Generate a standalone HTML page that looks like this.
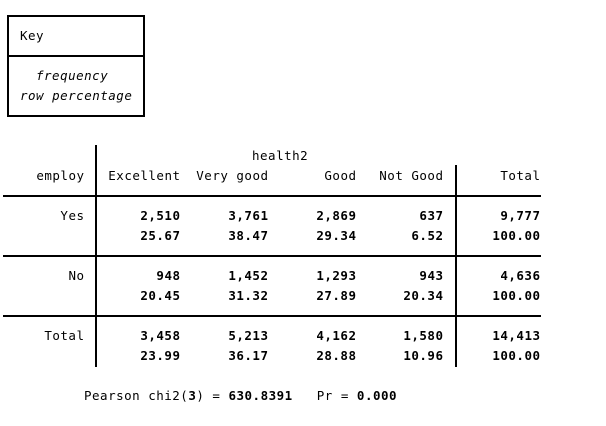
<!DOCTYPE html>
<html><head><meta charset="utf-8">
<style>
body{margin:0;background:#fff;}
#c{position:relative;width:606px;height:426px;overflow:hidden;font-family:"DejaVu Sans Mono","Liberation Mono",monospace;font-size:12.5px;letter-spacing:0.5px;color:#000;}
.t{position:absolute;white-space:pre;line-height:14px;}
.r{text-align:right;}
.b{font-weight:bold;}
.ln{position:absolute;background:#000;}
</style></head><body>
<div id="c">
<div class="ln" style="left:7px;top:15px;width:138px;height:2px"></div>
<div class="ln" style="left:7px;top:115px;width:138px;height:2px"></div>
<div class="ln" style="left:7px;top:15px;width:2px;height:102px"></div>
<div class="ln" style="left:143px;top:15px;width:2px;height:102px"></div>
<div class="ln" style="left:7px;top:55px;width:138px;height:2px"></div>
<div class="t" style="left:20px;top:29px">Key</div>
<div class="t" style="left:36px;top:69px;font-style:italic">frequency</div>
<div class="t" style="left:20px;top:89px;font-style:italic">row percentage</div>

<div class="ln" style="left:95px;top:145px;width:2px;height:222px"></div>
<div class="ln" style="left:455px;top:165px;width:2px;height:202px"></div>
<div class="ln" style="left:3px;top:195px;width:538px;height:2px"></div>
<div class="ln" style="left:3px;top:255px;width:538px;height:2px"></div>
<div class="ln" style="left:3px;top:315px;width:538px;height:2px"></div>

<div class="t" style="left:252px;top:149px">health2</div>
<div class="t" style="left:84px;top:389px">Pearson chi2(<b>3</b>) = <b>630.8391</b>   Pr = <b>0.000</b></div>
</div>
<script>
const colRights=[84,180,268,356,443,540];
const header=["employ","Excellent","Very good","Good","Not Good","Total"];
const rowLabels=["Yes","No","Total"];
const freqs=[["2,510","3,761","2,869","637","9,777"],["948","1,452","1,293","943","4,636"],["3,458","5,213","4,162","1,580","14,413"]];
const pcts=[["25.67","38.47","29.34","6.52","100.00"],["20.45","31.32","27.89","20.34","100.00"],["23.99","36.17","28.88","10.96","100.00"]];
const c=document.getElementById('c');
function add(txt,right,top,bold,name){
  const d=document.createElement('div');
  d.className='t r'+(bold?' b':'');
  d.style.right=(606-right-0.5)+'px';d.style.top=top+'px';
  d.textContent=txt;
  
  
  c.appendChild(d);
}
header.forEach((h,i)=>add(h,colRights[i],169,false,'header-'+i));
rowLabels.forEach((l,r)=>{
  const y=209+r*60;
  add(l,colRights[0],y,false,'row-label-'+r);
  freqs[r].forEach((v,j)=>add(v,colRights[j+1],y,true,'freq-'+r+'-'+j));
  pcts[r].forEach((v,j)=>add(v,colRights[j+1],y+20,true,'pct-'+r+'-'+j));
});
</script>
</body></html>
